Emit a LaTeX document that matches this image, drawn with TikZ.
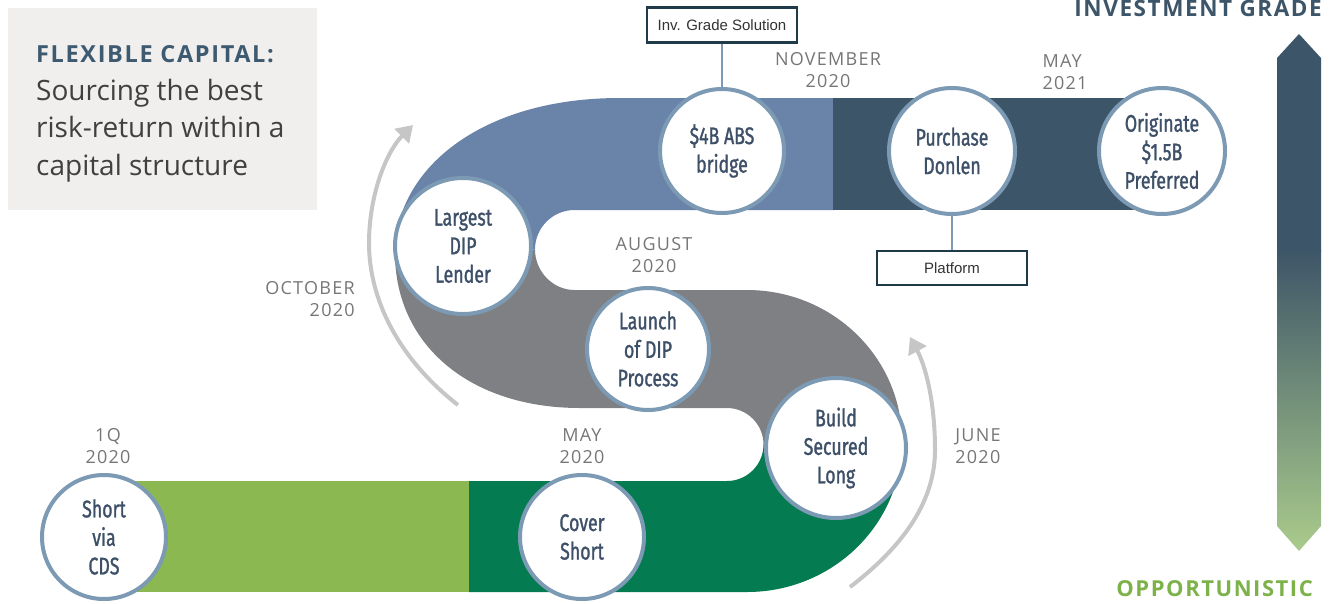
\documentclass[tikz,border=0pt]{standalone}
\usepackage{fontspec}
\setmainfont{Open Sans}
\newfontfamily\circfont[FakeStretch=0.74,FakeBold=1.2]{Fira Sans}
\newfontfamily\labfont[LetterSpace=7]{Open Sans}
\newfontfamily\headfont[LetterSpace=7]{Open Sans}
\newfontfamily\boxfont{Liberation Sans}
\usetikzlibrary{arrows.meta}
\definecolor{lgreen}{HTML}{8BB851}
\definecolor{dgreen}{HTML}{047B51}
\definecolor{sgray}{HTML}{7F8084}
\definecolor{sblue}{HTML}{6A83A8}
\definecolor{slate}{HTML}{3D5568}
\definecolor{ring}{HTML}{7C9AB3}
\definecolor{ctext}{HTML}{3E5068}
\definecolor{dtext}{HTML}{767676}
\definecolor{agray}{HTML}{C6C6C6}
\definecolor{boxline}{HTML}{1F3B4A}
\definecolor{titlebg}{HTML}{F0EFED}
\definecolor{titlec}{HTML}{3E5A70}
\definecolor{bodyc}{HTML}{404040}
\definecolor{oppc}{HTML}{7DB24A}
\definecolor{barg}{HTML}{AACB8C}
\begin{document}
\begin{tikzpicture}[x=1pt,y=-1pt,
  milestone/.style={circle, draw=ring, line width=4pt, fill=white, text=ctext, align=center, inner sep=0pt, font=\circfont\fontsize{24}{28.5}\selectfont},
  datelabel/.style={text=dtext, font=\labfont\fontsize{18}{22.5}\selectfont, inner sep=0pt},
  tagbox/.style={draw=boxline, line width=2.5pt, fill=white, minimum width=150pt, minimum height=35pt, font=\boxfont\fontsize{15}{18}\selectfont, text=black!80},
  link/.style={draw=ring, line width=2pt},
  flow/.style={draw=agray, line width=4pt, -{Triangle[length=16pt,width=20pt]}},
]
\useasboundingbox (0,0) rectangle (1335,603);

% title panel
\node[fill=titlebg, minimum width=309pt, minimum height=202pt, anchor=north west, inner sep=0pt] (title) at (8,8) {};
\node[anchor=base west, inner sep=0pt, text=titlec, font=\headfont\bfseries\fontsize{23.5}{28}\selectfont] (head) at (36,62) {FLEXIBLE CAPITAL:};
\node[anchor=base west, inner sep=0pt, text=bodyc, font=\fontsize{28}{37.5}\selectfont, align=left] (sub) at (36,175) {Sourcing the best\\risk-return within a\\capital structure};

% bands
\fill[lgreen] (125,481) rectangle (470,592);
\fill[dgreen] (469,481) -- (727,481) .. controls (747.1,481) and (763.5,464.6) .. (763.5,444.5) -- (902,441) .. controls (902,524.4) and (832.6,592) .. (747,592) -- (469,592) -- cycle;
\fill[sgray] (747,290) .. controls (832.6,290) and (902,357.6) .. (902,441) -- (763.5,444.5) .. controls (763.5,424.4) and (747.1,408) .. (727,408) -- (580,408) .. controls (470,408) and (395,345) .. (395,253) -- (535,249.5) .. controls (535,271.3) and (552.7,290) .. (574.5,290) -- cycle;
\fill[sblue] (395,253) .. controls (395,170) and (480,98) .. (620,98) -- (834,98) -- (834,210) -- (574.5,210) .. controls (552.7,210) and (535,227.7) .. (535,249.5) -- cycle;
\fill[slate] (833,98) rectangle (1140,210);

% direction arrows
\draw[flow] (458,405) .. controls (400,360) and (368,300) .. (369,240) .. controls (370,190) and (388,150) .. (413,125);
\draw[flow] (850,587) .. controls (905,545) and (935,500) .. (935,450) .. controls (935,400) and (925,365) .. (910,337);

% milestones
\node[milestone, minimum size=124pt] (cds) at (104,537) {Short\\via\\CDS};
\node[milestone, minimum size=124pt] (cover) at (582,537) {Cover\\Short};
\node[milestone, minimum size=140pt] (build) at (836,448) {Build\\Secured\\Long};
\node[milestone, minimum size=122pt] (launch) at (648,349) {Launch\\of DIP\\Process};
\node[milestone, minimum size=136pt] (dip) at (463,246) {Largest\\DIP\\Lender};
\node[milestone, minimum size=124pt] (abs) at (722,151) {\$4B ABS\\bridge};
\node[milestone, minimum size=126pt] (donlen) at (952,151) {Purchase\\Donlen};
\node[milestone, minimum size=126pt] (orig) at (1162,151) {Originate\\\$1.5B\\Preferred};

% tag boxes
\node[tagbox] (ivg) at (722,25) {Inv. Grade Solution};
\node[tagbox, minimum height=34pt] (plat) at (952,268) {Platform};
\draw[link] (ivg) -- (abs);
\draw[link] (donlen) -- (plat);

% date labels
\node[datelabel, align=center] (q1) at (108,446) {1Q\\2020};
\node[datelabel, align=center] (may20) at (582,446) {MAY\\2020};
\node[datelabel, align=left] (jun20) at (978,446) {JUNE\\2020};
\node[datelabel, align=right] (oct20) at (310,299) {OCTOBER\\2020};
\node[datelabel, align=center] (aug20) at (654,255) {AUGUST\\2020};
\node[datelabel, align=center] (nov20) at (828,70) {NOVEMBER\\2020};
\node[datelabel, align=left] (may21) at (1065,72) {MAY\\2021};

% scale bar
\fill[slate] (1299,34) -- (1321,58) -- (1321,252) -- (1277,252) -- (1277,58) -- cycle;
\shade[top color=slate, bottom color=barg] (1277,250) -- (1321,250) -- (1321,526) -- (1299,551) -- (1277,526) -- cycle;
\node[anchor=base east, inner sep=0pt, text=slate, font=\headfont\bfseries\fontsize{22.5}{26}\selectfont] (ig) at (1322,16) {INVESTMENT GRADE};
\node[anchor=base east, inner sep=0pt, text=oppc, font=\headfont\bfseries\fontsize{22}{26}\selectfont] (opp) at (1313,596) {OPPORTUNISTIC};
\end{tikzpicture}
\end{document}
